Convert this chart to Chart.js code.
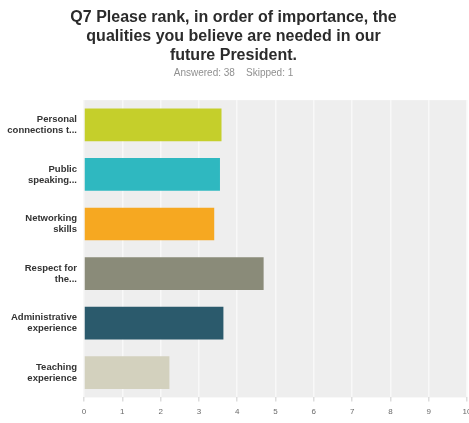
<!DOCTYPE html>
<html>
<head>
<meta charset="utf-8">
<script src="https://cdn.jsdelivr.net/npm/chart.js@4.4.1/dist/chart.umd.min.js"></script>
<style>
  html, body { margin: 0; padding: 0; background: #ffffff; overflow: hidden; }
  #wrap { width: 469px; height: 423px; }
</style>
</head>
<body>
<div id="wrap"><canvas id="chart" width="469" height="423"></canvas></div>
<script>
// Answer choices (wrapped onto two lines as shown on the axis)
const categories = [
  ["Personal", "connections t..."],
  ["Public", "speaking..."],
  ["Networking", "skills"],
  ["Respect for", "the..."],
  ["Administrative", "experience"],
  ["Teaching", "experience"]
];
// Average ranking score per choice
const scores = [3.59, 3.55, 3.40, 4.69, 3.64, 2.23];
const barColors = ["#c5cf2b", "#2fb8c0", "#f6a821", "#8a8b79", "#2b5a6c", "#d3d1be"];
const xTicks = [0, 1, 2, 3, 4, 5, 6, 7, 8, 9, 10];
const titleLines = [
  "Q7 Please rank, in order of importance, the",
  "qualities you believe are needed in our",
  "future President."
];
const subtitleText = "Answered: 38    Skipped: 1";

// Shaded plot background behind the bars
const plotBackground = {
  id: "plotBackground",
  beforeDraw(chart) {
    const { ctx, chartArea: a } = chart;
    ctx.save();
    ctx.fillStyle = "#eeeeee";
    ctx.fillRect(a.left, a.top, a.right - a.left, a.bottom - a.top);
    ctx.restore();
  }
};

new Chart(document.getElementById("chart"), {
  type: "bar",
  data: {
    labels: categories,
    datasets: [{
      data: scores,
      backgroundColor: barColors,
      borderWidth: 0,
      categoryPercentage: 0.66,
      barPercentage: 1.0
    }]
  },
  plugins: [plotBackground],
  options: {
    indexAxis: "y",
    responsive: false,
    animation: false,
    devicePixelRatio: 1,
    layout: { padding: { top: 4, right: 2, left: 0, bottom: 0 } },
    plugins: {
      legend: { display: false },
      tooltip: { enabled: false },
      title: {
        display: true,
        text: titleLines,
        color: "#2b2b2b",
        font: { family: "Liberation Sans, Arial, sans-serif", size: 16, weight: "bold", lineHeight: 1.19 },
        padding: { top: 4, bottom: 1 }
      },
      subtitle: {
        display: true,
        text: subtitleText,
        color: "#909090",
        font: { family: "Liberation Sans, Arial, sans-serif", size: 10 },
        padding: { top: 1, bottom: 21 }
      }
    },
    scales: {
      x: {
        min: 0,
        max: 10,
        afterBuildTicks(scale) { scale.ticks = xTicks.map(v => ({ value: v })); },
        afterFit(scale) { scale.paddingRight = 0; scale.paddingLeft = 0; },
        grid: { color: "#f8f8f8", lineWidth: 1.5, drawTicks: true, tickLength: 4, tickColor: "#dddddd" },
        border: { display: false },
        ticks: {
          color: "#6a6a6a",
          font: { family: "Liberation Sans, Arial, sans-serif", size: 8 },
          padding: 6,
          maxRotation: 0
        }
      },
      y: {
        afterFit(scale) { scale.width = 84; },
        grid: { display: false, drawTicks: false },
        border: { display: false },
        ticks: {
          color: "#333333",
          font: { family: "Liberation Sans, Arial, sans-serif", size: 9.5, weight: "bold", lineHeight: 1.15 },
          padding: 7
        }
      }
    }
  }
});
</script>
</body>
</html>
